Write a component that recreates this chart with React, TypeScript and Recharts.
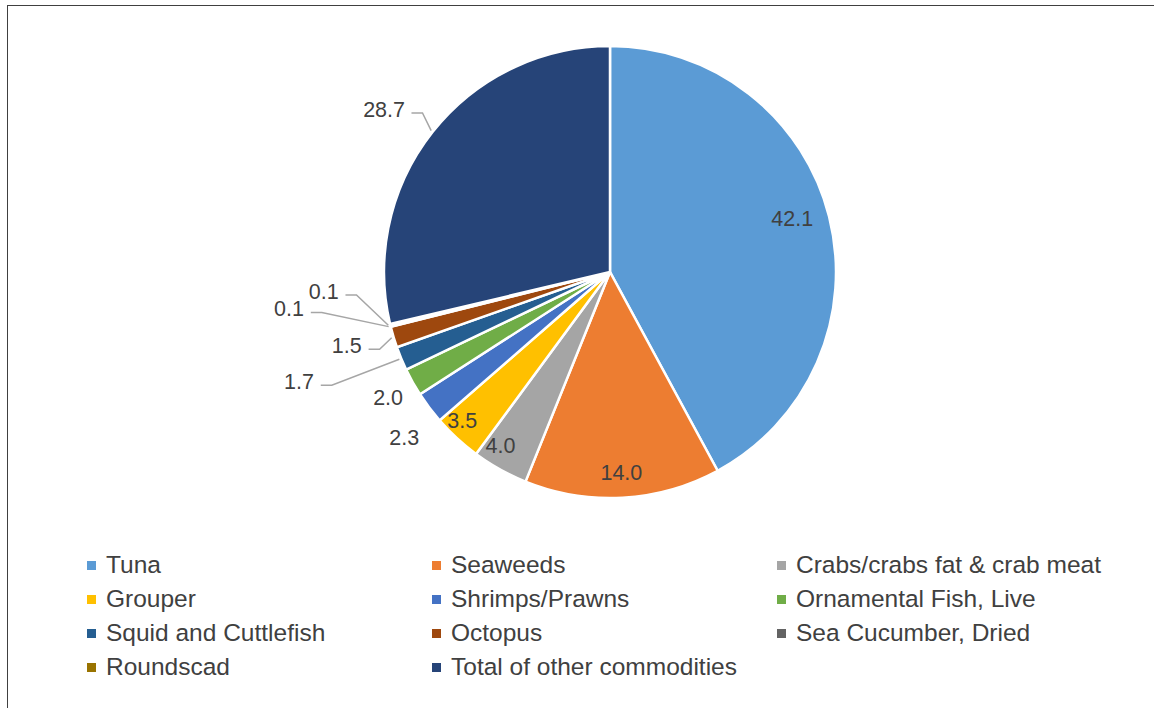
import React from 'react';
import { PieChart, Pie, Cell, Legend } from 'recharts';

const categories = [
  'Tuna',
  'Seaweeds',
  'Crabs/crabs fat & crab meat',
  'Grouper',
  'Shrimps/Prawns',
  'Ornamental Fish, Live',
  'Squid and Cuttlefish',
  'Octopus',
  'Sea Cucumber, Dried',
  'Roundscad',
  'Total of other commodities',
];
const shares = [42.1, 14.0, 4.0, 3.5, 2.3, 2.0, 1.7, 1.5, 0.1, 0.1, 28.7];
const COLORS = [
  '#5B9BD5', '#ED7D31', '#A5A5A5', '#FFC000', '#4472C4', '#70AD47',
  '#255E91', '#9E480E', '#636363', '#997300', '#264478',
];

// label placement per slice: radius factor, angle shift (deg), leader line
const LABEL_LAYOUT = [
  { rf: 0.84, da: 2, leader: false },
  { rf: 0.89, da: 0, leader: false },
  { rf: 0.91, da: -3, leader: false },
  { rf: 0.93, da: -2, leader: false },
  { rf: 1.17, da: 2, leader: false },
  { rf: 1.13, da: 0.5, leader: false },
  { rf: 1.46, da: -3, leader: true },
  { rf: 1.21, da: -1, leader: true },
  { rf: 1.43, da: -7.2, leader: true },
  { rf: 1.27, da: -9.5, leader: true },
  { rf: 1.23, da: 2.7, leader: true },
];

const data = categories.map((name, i) => ({ name, value: shares[i] }));

const RAD = Math.PI / 180;
const FONT = '"Liberation Sans", Arial, sans-serif';

const renderLabel = (props: any) => {
  const { cx, cy, midAngle, outerRadius, index, value } = props;
  const lay = LABEL_LAYOUT[index];
  const a = (midAngle + lay.da) * RAD;
  const r = outerRadius * lay.rf;
  const x = cx + r * Math.cos(a);
  const y = cy - r * Math.sin(a);
  const text = value.toFixed(1);
  let leader = null;
  if (lay.leader) {
    const hw = text.length * 5.6;
    const ex = cx + (outerRadius + 2) * Math.cos(midAngle * RAD);
    const ey = cy - (outerRadius + 2) * Math.sin(midAngle * RAD);
    const sx = x + hw + 5;
    const ly = y + 3;
    leader = (
      <polyline
        points={`${sx},${ly} ${sx + 11},${ly} ${ex},${ey}`}
        fill="none"
        stroke="#A6A6A6"
        strokeWidth={1.5}
      />
    );
  }
  return (
    <g key={`lbl-${index}`}>
      {leader}
      <text
        x={x}
        y={y}
        textAnchor="middle"
        dominantBaseline="central"
        fill="#404040"
        fontSize={21.5}
        fontFamily={FONT}
      >
        {text}
      </text>
    </g>
  );
};

const renderLegend = () => (
  <div
    style={{
      display: 'grid',
      gridTemplateColumns: '345px 345px 345px',
      fontFamily: FONT,
      fontSize: 24.5,
      color: '#404040',
    }}
  >
    {categories.map((c, i) => (
      <div key={c} style={{ display: 'flex', alignItems: 'center', height: 34, whiteSpace: 'nowrap' }}>
        <span
          style={{
            display: 'inline-block',
            width: 9,
            height: 9,
            background: COLORS[i],
            marginRight: 10,
          }}
        />
        <span>{c}</span>
      </div>
    ))}
  </div>
);

const App: React.FC = () => {
  return (
    <div
      style={{
        position: 'absolute',
        left: 0,
        top: 0,
        width: 1154,
        height: 708,
        background: '#fff',
        overflow: 'hidden',
      }}
    >
      <div
        style={{
          position: 'absolute',
          left: 7,
          top: 5,
          width: 1160,
          height: 720,
          borderLeft: '1.5px solid #404040',
          borderTop: '1.5px solid #404040',
        }}
      />
      <PieChart
        width={1154}
        height={708}
        margin={{ top: 0, right: 0, bottom: 0, left: 0 }}
        style={{ position: 'absolute', left: 0, top: 0 }}
      >
        <Pie
          data={data}
          dataKey="value"
          nameKey="name"
          cx={610}
          cy={272}
          outerRadius={226}
          startAngle={90}
          endAngle={-270}
          stroke="#fff"
          strokeWidth={2.5}
          label={renderLabel}
          labelLine={false}
          isAnimationActive={false}
        >
          {data.map((entry, index) => (
            <Cell key={`cell-${index}`} fill={COLORS[index % COLORS.length]} />
          ))}
        </Pie>
        <Legend
          content={renderLegend}
          wrapperStyle={{ position: 'absolute', left: 87, top: 548, width: 1060 }}
        />
      </PieChart>
    </div>
  );
};

export default App;
